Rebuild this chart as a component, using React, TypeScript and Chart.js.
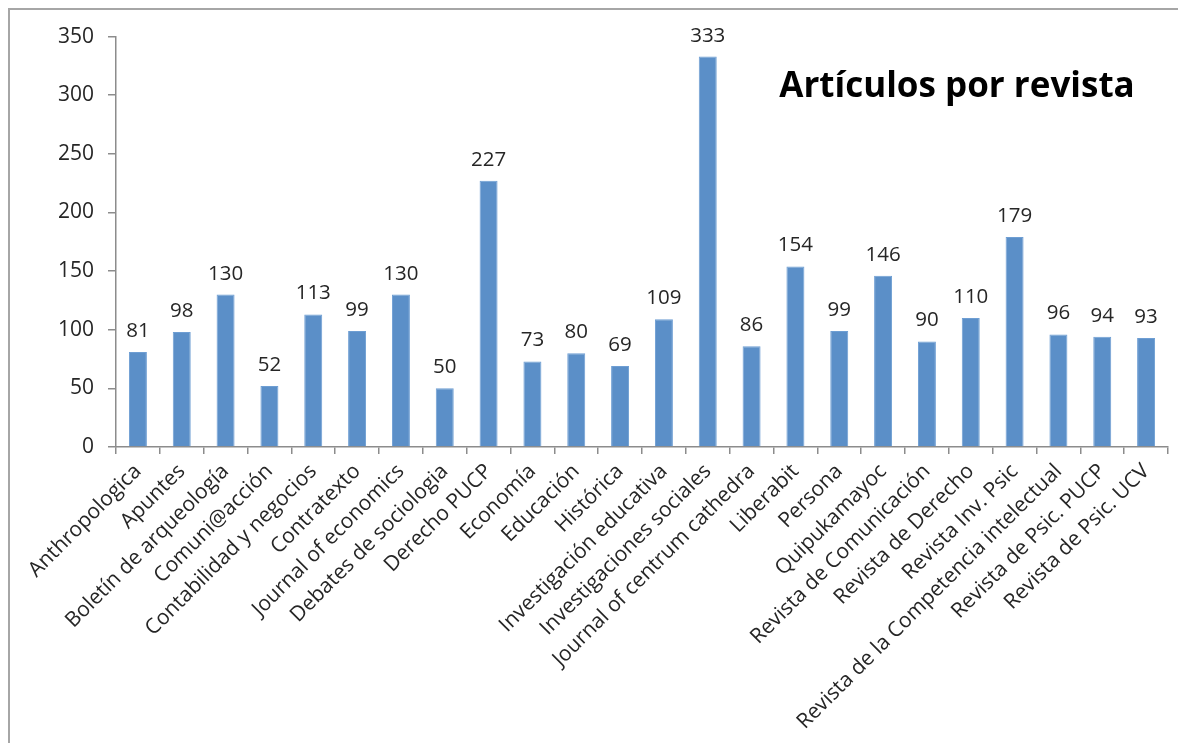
import React, { useEffect, useRef } from "react";
import { Chart, registerables } from "chart.js";

Chart.register(...registerables);

const categories: string[] = [
  "Anthropologica",
  "Apuntes",
  "Boletín de arqueología",
  "Comuni@acción",
  "Contabilidad y negocios",
  "Contratexto",
  "Journal of economics",
  "Debates de sociologia",
  "Derecho PUCP",
  "Economía",
  "Educación",
  "Histórica",
  "Investigación educativa",
  "Investigaciones sociales",
  "Journal of centrum cathedra",
  "Liberabit",
  "Persona",
  "Quipukamayoc",
  "Revista de Comunicación",
  "Revista de Derecho",
  "Revista Inv. Psic",
  "Revista de la Competencia intelectual",
  "Revista de Psic. PUCP",
  "Revista de Psic. UCV",
];

const articulos: number[] = [
  81, 98, 130, 52, 113, 99, 130, 50, 227, 73, 80, 69, 109, 333, 86, 154, 99,
  146, 90, 110, 179, 96, 94, 93,
];

const yTicks: number[] = [0, 50, 100, 150, 200, 250, 300, 350];

const chartTitle = "Artículos por revista";

const FONT = "'Open Sans', 'DejaVu Sans', sans-serif";
const TEXT = "#262626";
const AXIS = "#8c8c8c";

const labelPlugin = {
  id: "valueLabels",
  afterDatasetsDraw(chart: any) {
    const ctx = chart.ctx;
    const meta = chart.getDatasetMeta(0);
    ctx.save();
    ctx.font = `20.5px ${FONT}`;
    ctx.fillStyle = TEXT;
    ctx.textAlign = "center";
    ctx.textBaseline = "alphabetic";
    meta.data.forEach((bar: any, i: number) => {
      ctx.fillText(String(articulos[i]), bar.x, bar.y - 15);
    });
    ctx.restore();
  },
};

const titlePlugin = {
  id: "cornerTitle",
  afterDraw(chart: any) {
    const ctx = chart.ctx;
    ctx.save();
    ctx.font = `bold 35px ${FONT}`;
    ctx.fillStyle = "#000";
    ctx.textAlign = "center";
    ctx.textBaseline = "alphabetic";
    ctx.fillText(chartTitle, 947, 87);
    ctx.restore();
  },
};

export default function App() {
  const ref = useRef<HTMLCanvasElement | null>(null);

  useEffect(() => {
    document.body.style.overflow = "hidden";
    if (!ref.current) return;
    const chart = new Chart(ref.current, {
      type: "bar",
      data: {
        labels: categories,
        datasets: [
          {
            data: articulos,
            backgroundColor: "#5b8fc8",
            borderColor: "#6e9ed3",
            borderWidth: 1,
            categoryPercentage: 1,
            barPercentage: 0.41,
          },
        ],
      },
      options: {
        animation: false,
        responsive: false,
        maintainAspectRatio: false,
        layout: { padding: { left: 0, right: 18, top: 22, bottom: 0 } },
        plugins: {
          legend: { display: false },
          tooltip: { enabled: false },
          title: { display: false },
        },
        scales: {
          x: {
            offset: true,
            grid: {
              offset: true,
              drawOnChartArea: false,
              drawTicks: true,
              tickLength: 7,
              color: AXIS,
              lineWidth: 1.5,
            },
            border: { color: AXIS, width: 1.5 },
            ticks: {
              autoSkip: false,
              minRotation: 45,
              maxRotation: 45,
              padding: 5,
              color: TEXT,
              font: { family: FONT, size: 21 },
            },
            afterFit(scale: any) {
              scale.height = 296;
            },
          },
          y: {
            min: 0,
            max: 350,
            afterBuildTicks(scale: any) {
              scale.ticks = yTicks.map((v) => ({ value: v }));
            },
            grid: {
              drawOnChartArea: false,
              drawTicks: true,
              tickLength: 8,
              color: AXIS,
              lineWidth: 1.5,
            },
            border: { color: AXIS, width: 1.5 },
            ticks: {
              padding: 14,
              color: TEXT,
              font: { family: FONT, size: 21 },
            },
            afterFit(scale: any) {
              scale.width = 106;
            },
          },
        },
      },
      plugins: [labelPlugin, titlePlugin],
    });
    return () => chart.destroy();
  }, []);

  return (
    <div
      style={{
        width: 1178,
        height: 735,
        boxSizing: "border-box",
        borderTop: "2px solid #a6a6a6",
        borderLeft: "2px solid #a6a6a6",
        background: "#fff",
        overflow: "hidden",
      }}
    >
      <canvas
        ref={ref}
        width={1176}
        height={733}
        style={{ display: "block", width: 1176, height: 733 }}
      />
    </div>
  );
}
